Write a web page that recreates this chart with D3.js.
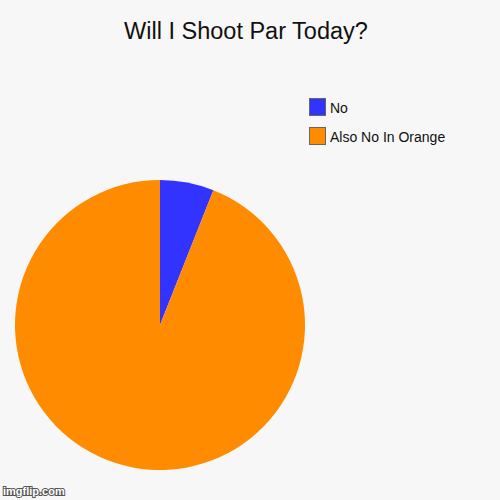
<!DOCTYPE html>
<html>
<head>
<meta charset="utf-8">
<script src="https://cdn.jsdelivr.net/npm/d3@7"></script>
<style>
  body { margin: 0; background: #f7f7f7; }
  svg { display: block; font-family: "Liberation Sans", Arial, sans-serif; }
</style>
</head>
<body>
<div id="chart"></div>
<script>
//Chart data
var labels = ["No", "Also No In Orange"];
var values = [6, 94];
var colors = ["#3333ff", "#ff8c00"];
var title = "Will I Shoot Par Today?";

var svgWidth = 500;
var svgHeight = 500;

var svg = d3.select("#chart")
    .append("svg")
    .attr("width", svgWidth)
    .attr("height", svgHeight);

svg.append("rect")
    .attr("width", svgWidth)
    .attr("height", svgHeight)
    .attr("fill", "#f7f7f7");

//Title
svg.append("text")
    .attr("x", 246)
    .attr("y", 39)
    .attr("text-anchor", "middle")
    .attr("font-size", "23.5px")
    .attr("fill", "#111")
    .text(title);

//Pie
var radius = 145;
var pieGroup = svg.append("g")
    .attr("transform", "translate(160, 325)");

var pie = d3.pie().sort(null);
var arc = d3.arc().innerRadius(0).outerRadius(radius);

pieGroup.selectAll("path")
    .data(pie(values))
    .enter()
    .append("path")
    .attr("d", arc)
    .attr("fill", (d, i) => colors[i]);

//Legend
var legend = svg.append("g")
    .attr("transform", "translate(309, 98)");

var items = legend.selectAll("g")
    .data(labels)
    .enter()
    .append("g")
    .attr("transform", (d, i) => `translate(0, ${i * 29})`);

items.append("rect")
    .attr("x", 0.5)
    .attr("y", 0.5)
    .attr("width", 16)
    .attr("height", 17)
    .attr("fill", (d, i) => colors[i])
    .attr("stroke", "#666")
    .attr("stroke-width", 1);

items.append("text")
    .attr("x", 21)
    .attr("y", 14.5)
    .attr("font-size", "14px")
    .attr("fill", "#111")
    .text(d => d);

//Watermark
svg.append("text")
    .attr("x", 3)
    .attr("y", 495)
    .attr("font-size", "11px")
    .attr("font-weight", "bold")
    .attr("fill", "#fff")
    .attr("stroke", "#555")
    .attr("stroke-width", 2)
    .attr("paint-order", "stroke")
    .text("imgflip.com");
</script>
</body>
</html>
